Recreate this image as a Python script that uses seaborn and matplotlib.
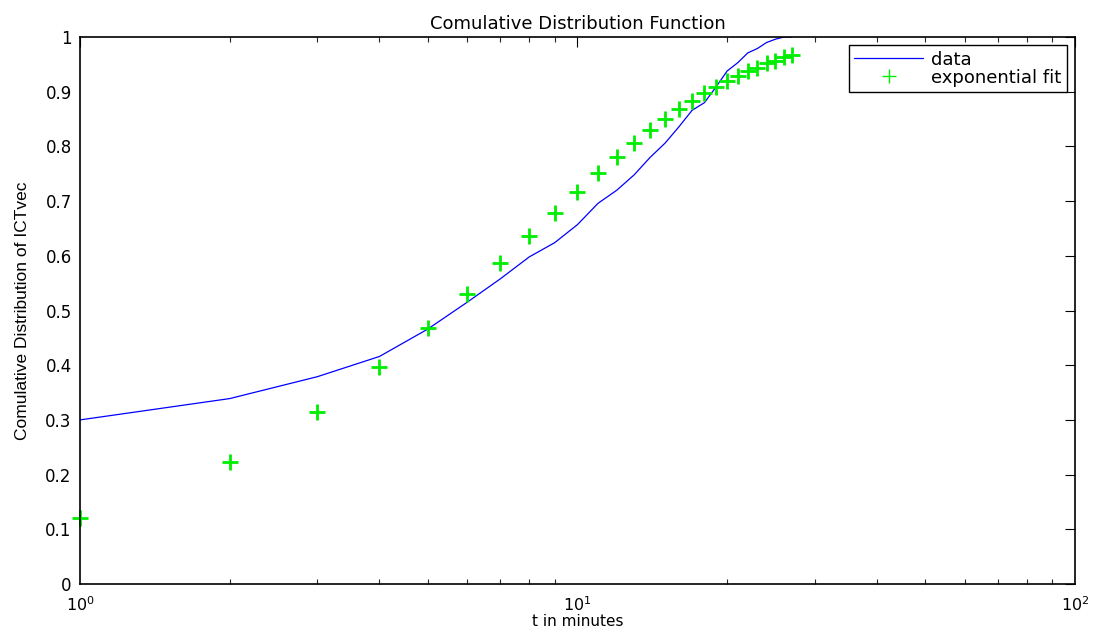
import matplotlib
matplotlib.use("Agg")
import matplotlib.pyplot as plt
import seaborn as sns
import numpy as np
import pandas as pd
from matplotlib.ticker import LogLocator, FixedLocator, FixedFormatter

# Time values (minutes)
t_minutes = list(range(1, 28))

# Empirical CDF of ICTvec
cdf_data = [0.300, 0.339, 0.379, 0.416, 0.466, 0.515, 0.558, 0.598, 0.624, 0.657,
            0.696, 0.720, 0.748, 0.780, 0.806, 0.836, 0.866, 0.880, 0.909, 0.938,
            0.953, 0.971, 0.979, 0.990, 0.996, 1.000, 1.000]

# Exponential fit evaluated at each minute
cdf_fit = [0.120, 0.223, 0.314, 0.397, 0.468, 0.531, 0.586, 0.636, 0.679, 0.717,
           0.751, 0.781, 0.806, 0.830, 0.851, 0.868, 0.883, 0.897, 0.909, 0.920,
           0.929, 0.938, 0.944, 0.952, 0.957, 0.963, 0.968]

y_ticks = [0, 0.1, 0.2, 0.3, 0.4, 0.5, 0.6, 0.7, 0.8, 0.9, 1]
y_tick_labels = ["0", "0.1", "0.2", "0.3", "0.4", "0.5", "0.6", "0.7", "0.8", "0.9", "1"]
x_ticks = [1, 10, 100]
x_tick_labels = [r"$10^{0}$", r"$10^{1}$", r"$10^{2}$"]

df_data = pd.DataFrame({"t": t_minutes, "cdf": cdf_data})
df_fit = pd.DataFrame({"t": t_minutes, "cdf": cdf_fit})

sns.set_style("white")
plt.rcParams["font.family"] = ["DejaVu Sans"]
plt.rcParams["mathtext.fontset"] = "dejavusans"
plt.rcParams["text.color"] = "black"
plt.rcParams["axes.labelcolor"] = "black"
plt.rcParams["axes.titlecolor"] = "black"

fig = plt.figure(figsize=(11, 6.35), dpi=100)
ax = fig.add_axes([0.0727, 0.0803, 0.9045, 0.8614])

fit_green = "#00ee00"

sns.lineplot(data=df_data, x="t", y="cdf", ax=ax, color="#0000ff", linewidth=0.9,
             label="data", estimator=None, sort=False)
sns.lineplot(data=df_fit, x="t", y="cdf", ax=ax, color=fit_green, linestyle="",
             marker="+", markersize=11, markeredgewidth=2.0,
             markeredgecolor=fit_green, markerfacecolor=fit_green,
             label="exponential fit", estimator=None, sort=False, clip_on=False)

ax.set_xscale("log")
ax.set_xlim(1, 100)
ax.set_ylim(0, 1)

ax.xaxis.set_major_locator(FixedLocator(x_ticks))
ax.xaxis.set_major_formatter(FixedFormatter(x_tick_labels))
ax.xaxis.set_minor_locator(LogLocator(base=10, subs=np.arange(2, 10)))
ax.xaxis.set_minor_formatter(FixedFormatter([]))
ax.yaxis.set_major_locator(FixedLocator(y_ticks))
ax.yaxis.set_major_formatter(FixedFormatter(y_tick_labels))

ax.tick_params(axis="both", which="major", direction="in", length=7, width=0.8,
               top=True, right=True, colors="black", labelsize=12)
ax.tick_params(axis="x", which="major", pad=8, labelsize=11.5)
ax.tick_params(axis="y", which="major", pad=6)
ax.tick_params(axis="x", which="minor", direction="in", length=3.5, width=0.8,
               top=True, bottom=True)

for side in ["top", "right", "bottom", "left"]:
    ax.spines[side].set_visible(True)
    ax.spines[side].set_color("black")
    ax.spines[side].set_linewidth(1.2)

ax.set_title("Comulative Distribution Function", fontsize=13, pad=6)
ax.set_xlabel("t in minutes", fontsize=11, labelpad=0)
ax.set_ylabel("Comulative Distribution of ICTvec", fontsize=12.5,
              family=["Liberation Sans Narrow", "Liberation Sans", "DejaVu Sans"],
              labelpad=11)

leg = ax.legend(loc="upper right", fontsize=13, frameon=True, fancybox=False,
                framealpha=1, edgecolor="black", handlelength=3.8,
                handletextpad=0.45, labelspacing=0.0, borderpad=0.3,
                borderaxespad=0.45)
leg.get_frame().set_linewidth(1.0)
# thinner cross in the legend key
fit_handle = leg.legend_handles[1]
fit_handle.set_markeredgewidth(1.0)
fit_handle.set_markersize(10)

fig.savefig("out.png", dpi=100, facecolor="white")
